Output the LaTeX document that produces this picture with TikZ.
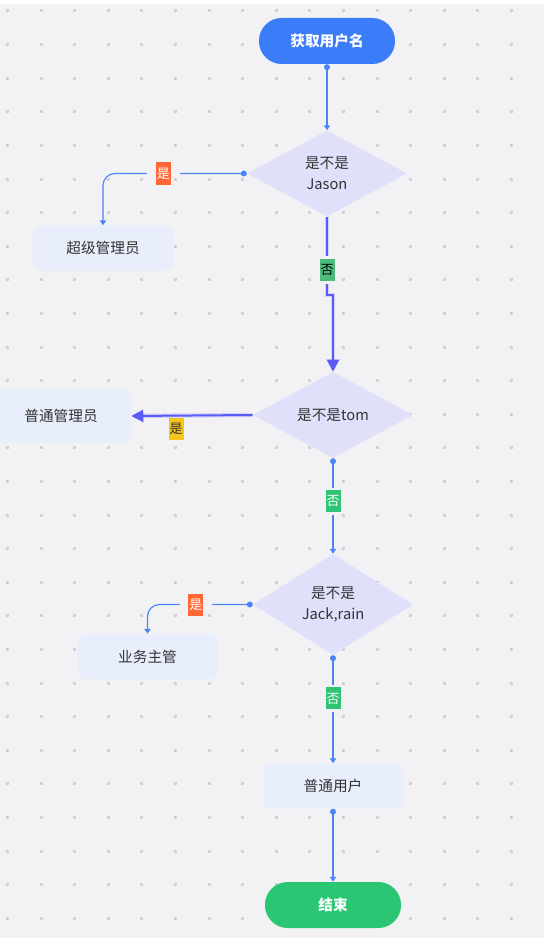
\documentclass[tikz,border=0pt]{standalone}
\usepackage{fontspec}
\setmainfont{Noto Sans CJK SC}
\usepackage{tikz}
\usetikzlibrary{arrows.meta,shapes.geometric}

\definecolor{canvas}{HTML}{F2F2F5}
\definecolor{griddot}{HTML}{D0D0D5}
\definecolor{startblue}{HTML}{3B7CF8}
\definecolor{endgreen}{HTML}{2AC673}
\definecolor{diamondfill}{HTML}{E0E0FB}
\definecolor{boxfill}{HTML}{E8EEFC}
\definecolor{linkblue}{HTML}{4B84F6}
\definecolor{mainblue}{HTML}{5B5CF5}
\definecolor{tagorange}{HTML}{FF6737}
\definecolor{taggreen}{HTML}{2EC474}
\definecolor{tagsage}{HTML}{4CBB7C}
\definecolor{tagyellow}{HTML}{F4C51A}
\definecolor{textdark}{HTML}{333333}

\begin{document}
\begin{tikzpicture}[x=0.75pt,y=-0.75pt,
    pill/.style={rectangle,rounded corners=17pt,minimum width=102pt,minimum height=34.5pt,text=white,font=\fontsize{11}{13}\selectfont\bfseries},
    startpill/.style={pill,fill=startblue},
    endpill/.style={pill,fill=endgreen},
    decision/.style={diamond,aspect=2,inner sep=0pt,minimum width=120pt,minimum height=64.5pt,fill=diamondfill,text=textdark,align=center,font=\fontsize{11}{15.75}\selectfont},
    rolebox/.style={rectangle,rounded corners=6pt,minimum width=105pt,minimum height=33.75pt,fill=boxfill,text=textdark,font=\fontsize{11}{13}\selectfont},
    tag/.style={rectangle,sharp corners,inner sep=0pt,minimum width=11.25pt,minimum height=16.5pt,font=\fontsize{9.75}{11}\selectfont},
    yestag/.style={tag,fill=tagorange,text=white},
    notag/.style={tag,fill=taggreen,text=white},
    hgap/.style={rectangle,sharp corners,fill=canvas,inner sep=0pt,minimum width=24.5pt,minimum height=2.5pt},
    vgap/.style={rectangle,sharp corners,fill=canvas,inner sep=0pt,minimum width=2.5pt,minimum height=20.5pt},
    conn/.style={draw=linkblue,line width=0.9pt,{Circle[length=4.4pt,width=4.4pt]}-{Triangle[length=3.6pt,width=4.6pt]}},
    boldconn/.style={draw=mainblue,line width=1.5pt,-{Triangle[length=9pt,width=9pt]},
      preaction={draw=mainblue!28,line width=3.2pt}}]
  \useasboundingbox (0,0) rectangle (544,938);
  \fill[white] (0,0) rectangle (544,4);
  \fill[canvas] (0,4) rectangle (544,938);
  % dotted grid
  \foreach \i in {0,...,15}
    \foreach \j in {0,...,27}
      \fill[griddot] ({6+33.6*\i},{9.5+33.6*\j}) rectangle ++(3,3);

  % nodes
  \node[startpill] (start) at (327,41) {获取用户名};
  \node[decision] (jason) at (327,173.5) {是不是\\Jason};
  \node[rolebox] (superadmin) at (103,248) {超级管理员};
  \node[decision] (tom) at (333,415) {是不是tom};
  \node[rolebox,minimum height=40pt] (admin) at (61,416) {普通管理员};
  \node[decision,minimum height=75.75pt] (jackrain) at (333,604.5) {是不是\\Jack,rain};
  \node[rolebox] (manager) at (147.5,656.5) {业务主管};
  \node[rolebox] (user) at (333,786) {普通用户};
  \node[endpill] (finish) at (333,905) {结束};
  \coordinate (jog) at (327,295);

  % connectors
  \draw[conn] (start) -- (jason);
  \draw[conn,rounded corners=9pt] (jason.west) -| node[pos=0.29,hgap]{} node[pos=0.29,yestag]{是} (superadmin.north);
  \draw[boldconn] (jason.south) -- node[pos=0.68,vgap]{} node[pos=0.68,tag,fill=tagsage,text=black]{否} (jog) -| (tom.north);
  \draw[boldconn] (tom.west) -- node[pos=0.63,below=1pt,tag,fill=tagyellow,text=textdark]{是} (admin.east);
  \draw[conn] (tom.south) -- node[pos=0.45,vgap]{} node[pos=0.45,notag]{否} (jackrain.north);
  \draw[conn,rounded corners=9pt] (jackrain.west) -| node[pos=0.27,hgap]{} node[pos=0.27,yestag]{是} (manager.north);
  \draw[conn] (jackrain.south) -- node[pos=0.4,vgap]{} node[pos=0.4,notag]{否} (user.north);
  \draw[conn] (user) -- (finish);
\end{tikzpicture}
\end{document}
